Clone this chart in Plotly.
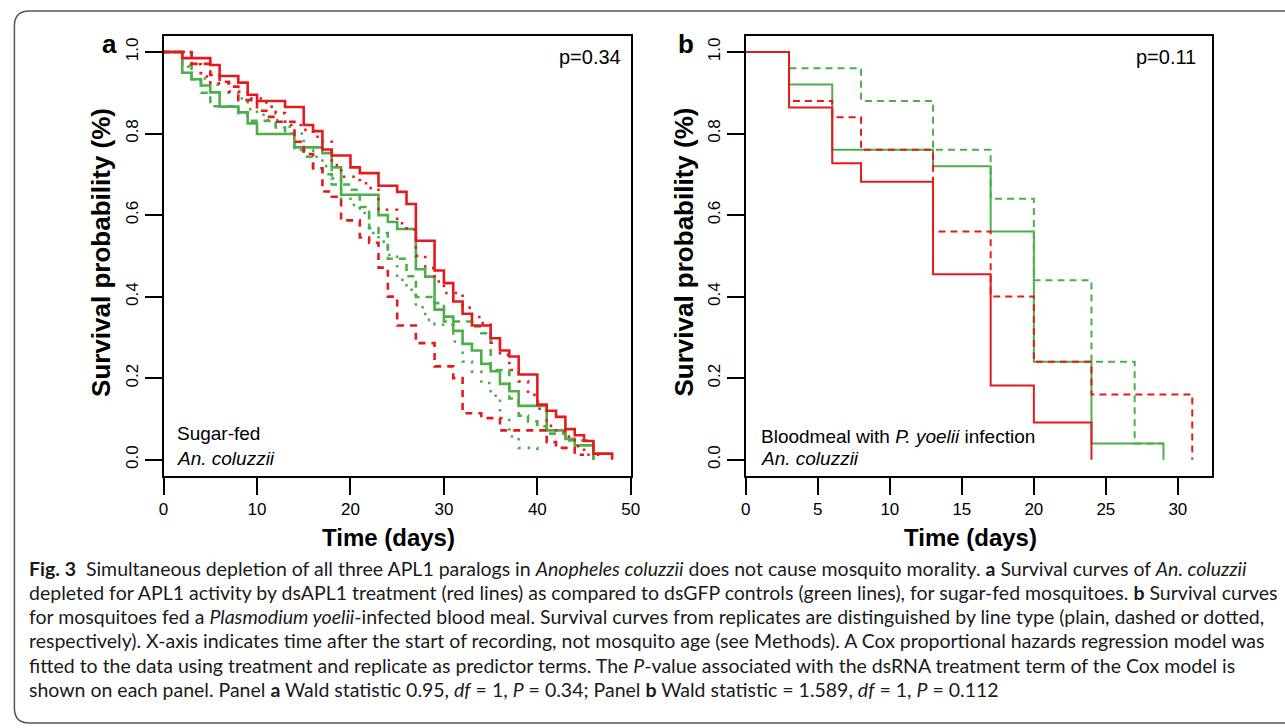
import plotly.graph_objects as go

# ---------------- data ----------------
# Panel a: sugar-fed An. coluzzii
A_RED_SOLID_T = [0, 2, 5, 6, 8, 9, 10, 13, 15, 16, 17, 18, 20, 21, 23, 25, 26, 27, 29, 30, 31, 32, 33, 35, 36, 37, 38, 40, 41, 42, 43, 44, 45, 46, 48]
A_RED_SOLID_S = [1, 0.985, 0.968, 0.941, 0.925, 0.895, 0.880, 0.865, 0.821, 0.806, 0.761, 0.746, 0.717, 0.703, 0.672, 0.657, 0.627, 0.537, 0.464, 0.433, 0.388, 0.358, 0.329, 0.298, 0.268, 0.253, 0.209, 0.135, 0.120, 0.105, 0.075, 0.060, 0.046, 0.015, 0.0]

A_RED_DASH_T = [0, 3, 5, 6, 7, 8, 10, 11, 12, 14, 15, 16, 17, 18, 19, 21, 22, 23, 24, 25, 27, 29, 31, 32, 34, 36, 41, 42, 44, 45]
A_RED_DASH_S = [1, 0.971, 0.944, 0.927, 0.915, 0.882, 0.856, 0.841, 0.829, 0.78, 0.75, 0.715, 0.658, 0.645, 0.587, 0.545, 0.532, 0.471, 0.40, 0.329, 0.286, 0.229, 0.200, 0.114, 0.102, 0.072, 0.043, 0.029, 0.012, 0.012]

A_RED_DOT_T = [0, 3, 4, 5, 7, 9, 11, 12, 13, 15, 16, 17, 18, 19, 21, 22, 23, 25, 26, 27, 28, 29, 30, 32, 33, 34, 35, 36, 37, 38, 39, 40, 41, 42, 43, 44, 45, 47]
A_RED_DOT_S = [1, 0.97, 0.94, 0.923, 0.903, 0.886, 0.866, 0.85, 0.821, 0.809, 0.792, 0.78, 0.723, 0.694, 0.678, 0.666, 0.613, 0.58, 0.564, 0.5, 0.47, 0.437, 0.409, 0.373, 0.35, 0.335, 0.287, 0.257, 0.22, 0.192, 0.159, 0.125, 0.083, 0.069, 0.057, 0.033, 0.012, 0.012]

A_GREEN_SOLID_T = [0, 2, 3, 4, 5, 6, 8, 9, 10, 14, 17, 18, 19, 23, 24, 25, 27, 28, 29, 30, 31, 32, 33, 34, 35, 36, 37, 38, 41, 43, 44, 46]
A_GREEN_SOLID_S = [1, 0.949, 0.933, 0.918, 0.901, 0.866, 0.852, 0.825, 0.799, 0.766, 0.752, 0.717, 0.650, 0.600, 0.583, 0.566, 0.467, 0.449, 0.368, 0.351, 0.316, 0.284, 0.268, 0.235, 0.217, 0.186, 0.168, 0.132, 0.072, 0.051, 0.035, 0.0]

A_GREEN_DASH_T = [0, 2, 3, 4, 5, 8, 9, 12, 13, 14, 15, 16, 17, 18, 20, 21, 22, 23, 24, 26, 27, 29, 30, 33, 34, 35, 37, 38, 39, 40, 41, 43, 46]
A_GREEN_DASH_S = [1, 0.967, 0.933, 0.9, 0.867, 0.85, 0.831, 0.815, 0.8, 0.76, 0.743, 0.715, 0.70, 0.675, 0.662, 0.62, 0.568, 0.556, 0.493, 0.45, 0.399, 0.384, 0.339, 0.327, 0.31, 0.22, 0.15, 0.108, 0.094, 0.082, 0.064, 0.047, 0.0]

A_GREEN_DOT_T = [0, 2, 3, 4, 5, 6, 8, 9, 10, 11, 13, 14, 15, 16, 17, 18, 19, 20, 21, 22, 23, 24, 25, 26, 27, 28, 29, 31, 32, 33, 34, 35, 36, 37, 38, 40]
A_GREEN_DOT_S = [1, 0.964, 0.948, 0.935, 0.92, 0.9, 0.886, 0.86, 0.846, 0.833, 0.817, 0.8, 0.76, 0.743, 0.72, 0.69, 0.64, 0.625, 0.605, 0.556, 0.535, 0.502, 0.441, 0.417, 0.374, 0.343, 0.331, 0.29, 0.241, 0.216, 0.188, 0.157, 0.102, 0.057, 0.029, 0.015]

# Panel b: bloodmeal with P. yoelii infection
B_RED_SOLID_T = [0, 3, 6, 8, 13, 17, 20, 24]
B_RED_SOLID_S = [1, 0.864, 0.727, 0.682, 0.455, 0.182, 0.091, 0.0]
B_RED_DASH_T = [0, 3, 6, 8, 13, 17, 20, 24, 31]
B_RED_DASH_S = [1, 0.88, 0.84, 0.76, 0.56, 0.40, 0.24, 0.16, 0.0]
B_GREEN_SOLID_T = [0, 3, 6, 13, 17, 20, 24, 29]
B_GREEN_SOLID_S = [1, 0.92, 0.76, 0.72, 0.56, 0.24, 0.04, 0.0]
B_GREEN_DASH_T = [0, 3, 8, 13, 17, 20, 24, 27, 29]
B_GREEN_DASH_S = [1, 0.96, 0.88, 0.76, 0.64, 0.44, 0.24, 0.04, 0.04]

Y_TICKS = [0, 0.2, 0.4, 0.6, 0.8, 1.0]
Y_TICK_LABELS = ["0.0", "0.2", "0.4", "0.6", "0.8", "1.0"]
A_X_TICKS = [0, 10, 20, 30, 40, 50]
B_X_TICKS = [0, 5, 10, 15, 20, 25, 30]

P_A = "p=0.34"
P_B = "p=0.11"

CAPTION = [
    "<b>Fig. 3</b>  Simultaneous depletion of all three APL1 paralogs in <i>Anopheles coluzzii</i> does not cause mosquito morality. <b>a</b> Survival curves of <i>An. coluzzii</i>",
    "depleted for APL1 activity by dsAPL1 treatment (red lines) as compared to dsGFP controls (green lines), for sugar-fed mosquitoes. <b>b</b> Survival curves",
    "for mosquitoes fed a <i>Plasmodium yoelii</i>-infected blood meal. Survival curves from replicates are distinguished by line type (plain, dashed or dotted,",
    "respectively). X-axis indicates time after the start of recording, not mosquito age (see Methods). A Cox proportional hazards regression model was",
    "fitted to the data using treatment and replicate as predictor terms. The <i>P</i>-value associated with the dsRNA treatment term of the Cox model is",
    "shown on each panel. Panel <b>a</b> Wald statistic 0.95, <i>df</i> = 1, <i>P</i> = 0.34; Panel <b>b</b> Wald statistic = 1.589, <i>df</i> = 1, <i>P</i> = 0.112",
]

# ---------------- styling ----------------
W, H = 1285, 728
RED = "#E41A1C"
GREEN = "#4DAF4A"
FONT = "Liberation Sans, Arial, sans-serif"
CAP_FONT = "Lato, Liberation Sans, sans-serif"


def fx(px):
    return px / W


def fy(py):
    return 1 - py / H


fig = go.Figure()

A_DASH = "7px,6px"
A_DOT = "2.5px,7px"
B_DASH = "7px,5px"

panel_a = [
    (A_GREEN_SOLID_T, A_GREEN_SOLID_S, GREEN, "solid"),
    (A_GREEN_DASH_T, A_GREEN_DASH_S, GREEN, A_DASH),
    (A_GREEN_DOT_T, A_GREEN_DOT_S, GREEN, A_DOT),
    (A_RED_SOLID_T, A_RED_SOLID_S, RED, "solid"),
    (A_RED_DASH_T, A_RED_DASH_S, RED, A_DASH),
    (A_RED_DOT_T, A_RED_DOT_S, RED, A_DOT),
]
for t, s, c, d in panel_a:
    fig.add_trace(go.Scatter(x=t, y=s, mode="lines", line=dict(color=c, width=2.6, dash=d, shape="hv"),
                             xaxis="x", yaxis="y", showlegend=False, hoverinfo="skip"))

panel_b = [
    (B_GREEN_SOLID_T, B_GREEN_SOLID_S, GREEN, "solid"),
    (B_GREEN_DASH_T, B_GREEN_DASH_S, GREEN, B_DASH),
    (B_RED_SOLID_T, B_RED_SOLID_S, RED, "solid"),
    (B_RED_DASH_T, B_RED_DASH_S, RED, B_DASH),
]
for t, s, c, d in panel_b:
    fig.add_trace(go.Scatter(x=t, y=s, mode="lines", line=dict(color=c, width=2.0, dash=d, shape="hv"),
                             xaxis="x2", yaxis="y2", showlegend=False, hoverinfo="skip"))

axis_common = dict(showline=True, mirror=True, linecolor="black", linewidth=2,
                   ticks="outside", ticklen=17, tickwidth=2, tickcolor="black",
                   showgrid=False, zeroline=False,
                   tickfont=dict(family=FONT, size=17, color="black"))

y_common = dict(axis_common, range=[-0.04, 1.04], tickvals=Y_TICKS, ticktext=Y_TICK_LABELS,
                tickangle=-90, domain=[fy(476), fy(35.7)], ticklabelstandoff=0)

fig.update_layout(
    width=W, height=H,
    margin=dict(l=0, r=0, t=0, b=0),
    paper_bgcolor="white", plot_bgcolor="white",
    xaxis=dict(axis_common, range=[0, 50], tickvals=A_X_TICKS, domain=[fx(160.3), fx(632.7)], anchor="y"),
    yaxis=dict(y_common, anchor="x"),
    xaxis2=dict(axis_common, range=[0, 32.35], tickvals=B_X_TICKS, domain=[fx(749), fx(1220)], anchor="y2"),
    yaxis2=dict(y_common, anchor="x2"),
    font=dict(family=FONT, color="black"),
)

ann = []


def add_text(text, px, py, size, xanchor="center", yanchor="middle", angle=0, family=FONT, color="black"):
    ann.append(dict(text=text, x=fx(px), y=fy(py), xref="paper", yref="paper", showarrow=False,
                    xanchor=xanchor, yanchor=yanchor, textangle=angle,
                    font=dict(family=family, size=size, color=color)))


add_text("<b>a</b>", 106, 44, 26)
add_text("<b>b</b>", 688, 44, 26)
add_text(P_A, 625, 57, 20, xanchor="right")
add_text(P_B, 1206, 57, 20, xanchor="right")
add_text("Sugar-fed", 172, 433, 19, xanchor="left")
add_text("<i>An. coluzzii</i>", 172, 458, 19, xanchor="left")
add_text("Bloodmeal with <i>P. yoelii</i> infection", 762, 436, 19, xanchor="left")
add_text("<i>An. coluzzii</i>", 762, 458, 19, xanchor="left")
add_text("<b>Survival probability (%)</b>", 97, 252, 26, angle=-90)
add_text("<b>Survival probability (%)</b>", 686, 252, 26, angle=-90)
add_text("<b>Time (days)</b>", 388, 537, 24)
add_text("<b>Time (days)</b>", 976, 537, 24)

cap_y = [568, 592, 616, 640.5, 665, 689]
for line, yy in zip(CAPTION, cap_y):
    add_text(line, 22, yy, 19.5, xanchor="left", family=CAP_FONT, color="#1a1a1a")

fig.update_layout(annotations=ann)

# rounded frame around figure + caption
r = 15
L, T, B, R = 9.5, 11, 723, 1300
path = (f"M {fx(R)} {fy(T)} L {fx(L + r)} {fy(T)} Q {fx(L)} {fy(T)} {fx(L)} {fy(T + r)} "
        f"L {fx(L)} {fy(B - r)} Q {fx(L)} {fy(B)} {fx(L + r)} {fy(B)} L {fx(R)} {fy(B)}")
fig.add_shape(type="path", path=path, xref="paper", yref="paper",
              line=dict(color="#555555", width=1.5))

fig.write_html("out.html", config={"displayModeBar": False},
               post_script="document.body.style.margin='0';document.body.style.padding='0';")
